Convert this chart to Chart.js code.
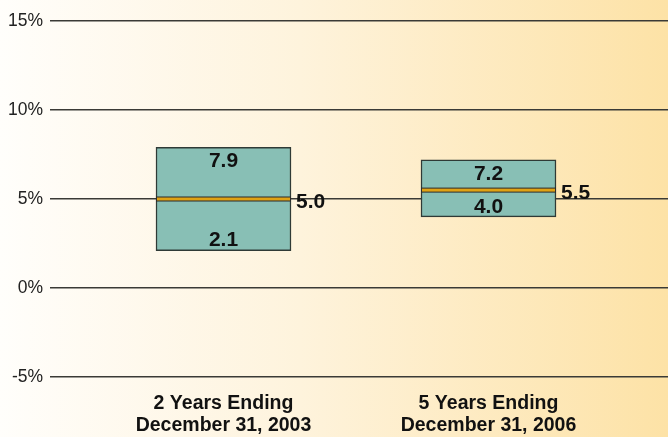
<!DOCTYPE html>
<html>
<head>
<meta charset="utf-8">
<script src="https://cdn.jsdelivr.net/npm/chart.js@4/dist/chart.umd.min.js"></script>
<style>
  html, body { margin: 0; padding: 0; }
  body { width: 668px; height: 437px; background: linear-gradient(to right, #fffefb 0%, #fef3dc 45%, #fde2a6 100%); }
  #wrap { width: 668px; height: 437px; }
</style>
</head>
<body>
<div id="wrap"><canvas id="rangeChart"></canvas></div>
<script>
// periods and their low / median / high returns (%)
const periods = [['2 Years Ending', 'December 31, 2003'], ['5 Years Ending', 'December 31, 2006']];
const lows = [2.1, 4.0];
const highs = [7.9, 7.2];
const medians = [5.0, 5.5];
const yTicks = [-5, 0, 5, 10, 15];

const ranges = lows.map((lo, i) => [lo, highs[i]]);
const font = 'Liberation Sans, Arial, Helvetica, sans-serif';

// median stripe + value labels on each box
const boxLabels = {
  id: 'boxLabels',
  afterDatasetsDraw(chart) {
    const ctx = chart.ctx;
    const y = chart.scales.y;
    const meta = chart.getDatasetMeta(0);
    meta.data.forEach((bar, i) => {
      const left = bar.x - bar.width / 2;
      const right = bar.x + bar.width / 2;
      const my = y.getPixelForValue(medians[i]);
      ctx.save();
      ctx.fillStyle = '#2b2b2b';
      ctx.fillRect(left, my - 2.5, right - left, 5);
      ctx.fillStyle = '#e0a214';
      ctx.fillRect(left + 1, my - 1.5, right - left - 2, 3);

      ctx.fillStyle = '#111';
      ctx.font = 'bold 21px ' + font;
      ctx.textAlign = 'center';
      ctx.textBaseline = 'middle';
      ctx.fillText(highs[i].toFixed(1), bar.x, y.getPixelForValue(highs[i]) + 14);
      ctx.fillText(lows[i].toFixed(1), bar.x, y.getPixelForValue(lows[i]) - 10);
      ctx.textAlign = 'left';
      ctx.fillText(medians[i].toFixed(1), right + 5, my + 3);
      ctx.restore();
    });
  }
};

new Chart(document.getElementById('rangeChart'), {
  type: 'bar',
  data: {
    labels: periods,
    datasets: [{
      data: ranges,
      backgroundColor: '#88bfb5',
      borderColor: '#2f3a36',
      borderWidth: 1.5,
      borderSkipped: false,
      barThickness: 135
    }]
  },
  options: {
    responsive: true,
    maintainAspectRatio: false,
    animation: false,
    layout: { padding: { top: 21, left: 0, right: 0, bottom: 0 } },
    plugins: {
      legend: { display: false },
      tooltip: { enabled: false }
    },
    scales: {
      x: {
        grid: { display: false },
        border: { display: false },
        ticks: {
          color: '#111',
          padding: 8,
          font: { family: font, size: 19.5, weight: 'bold', lineHeight: 1.13 }
        },
        afterFit(scale) { scale.height = 60; }
      },
      y: {
        min: -5, max: 15,
        afterBuildTicks(scale) { scale.ticks = yTicks.map(v => ({ value: v })); },
        grid: { color: '#3a3a36', lineWidth: 1.5, tickLength: 41, tickColor: '#3a3a36' },
        border: { display: false },
        ticks: {
          color: '#222',
          padding: 7,
          font: { family: font, size: 17.5 },
          callback: v => v + '%'
        },
        afterFit(scale) { scale.width = 91; }
      },
      y2: {
        position: 'right',
        min: -5, max: 15,
        afterBuildTicks(scale) { scale.ticks = yTicks.map(v => ({ value: v })); },
        grid: { drawOnChartArea: false, color: '#3a3a36', lineWidth: 1.5, tickLength: 47, tickColor: '#3a3a36' },
        border: { display: false },
        ticks: { display: false },
        afterFit(scale) { scale.width = 47; }
      }
    }
  },
  plugins: [boxLabels]
});
</script>
</body>
</html>
